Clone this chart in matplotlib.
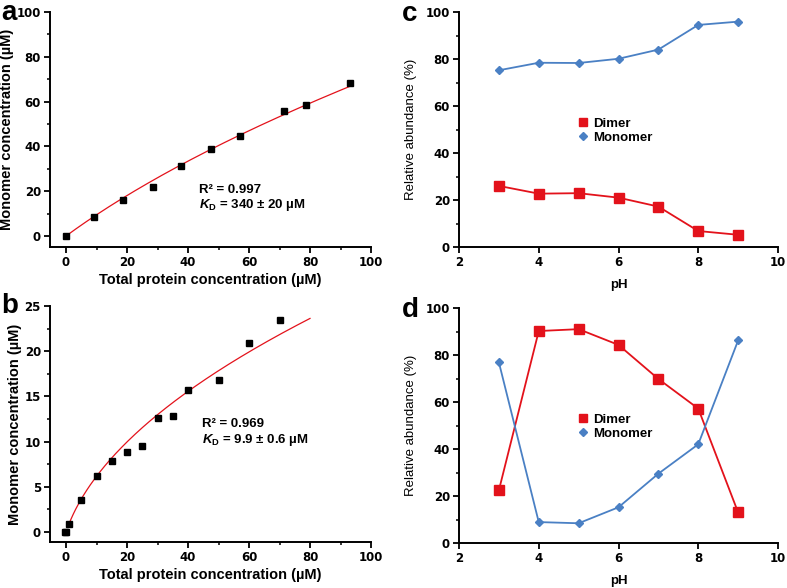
import numpy as np
import matplotlib
matplotlib.use('Agg')
import matplotlib.pyplot as plt
from matplotlib.ticker import MultipleLocator
from matplotlib.lines import Line2D

plt.rcParams['font.family'] = ['Liberation Sans', 'DejaVu Sans']
plt.rcParams['font.weight'] = 'bold'
plt.rcParams['mathtext.fontset'] = 'custom'
plt.rcParams['mathtext.rm'] = 'Liberation Sans:bold'
plt.rcParams['mathtext.it'] = 'Liberation Sans:italic:bold'
plt.rcParams['mathtext.bf'] = 'Liberation Sans:bold'

# panel a
a_total = [0, 9.3, 18.8, 28.4, 37.8, 47.5, 57.0, 71.6, 78.8, 93.0]
a_mono = [0, 8.6, 16.0, 21.9, 31.4, 38.8, 44.8, 55.9, 58.4, 68.1]
a_kd = 340.0
# panel b
b_total = [0, 1, 5, 10, 15, 20, 25, 30, 35, 40, 50, 60, 70]
b_mono = [0, 0.9, 3.6, 6.2, 7.9, 8.8, 9.55, 12.6, 12.85, 15.7, 16.8, 20.9, 23.4]
b_kd = 9.9
# panels c, d
ph = [3, 4, 5, 6, 7, 8, 9]
c_dimer = [26.0, 22.7, 22.9, 21.0, 17.2, 6.8, 5.2]
c_mono = [75.2, 78.4, 78.3, 80.1, 84.0, 94.5, 95.9]
d_dimer = [22.4, 90.2, 91.0, 84.3, 69.8, 57.2, 13.0]
d_mono = [76.9, 8.9, 8.4, 15.2, 29.5, 42.0, 86.2]

RED = '#e3121b'
BLUE = '#4a80c4'
W, H = 787, 588

fig = plt.figure(figsize=(W/100, H/100), dpi=100)

def box(l, r, t, b):
  return [l/W, 1-b/H, (r-l)/W, (b-t)/H]

def style(ax):
  for s in ['top', 'right']:
    ax.spines[s].set_visible(False)
  for s in ['left', 'bottom']:
    ax.spines[s].set_linewidth(1.4)
  ax.tick_params(which='major', direction='out', length=4, width=1.3, pad=2.5)
  ax.tick_params(which='minor', direction='out', length=2.5, width=1.1)
  for lab in ax.get_xticklabels() + ax.get_yticklabels():
    lab.set_fontweight('bold')
    lab.set_family('DejaVu Sans')
    lab.set_fontsize(8.5)

# a
axa = fig.add_axes(box(50, 371, 12, 247))
xf = np.linspace(0, 93, 200)
axa.plot(xf, a_kd/4*(np.sqrt(1+8*xf/a_kd)-1), color=RED, lw=0.9)
axa.plot(a_total, a_mono, 's', color='black', ms=5)
axa.set_xlim(-5.25, 100)
axa.set_ylim(-4.9, 100)
axa.xaxis.set_major_locator(MultipleLocator(20))
axa.xaxis.set_minor_locator(MultipleLocator(10))
axa.yaxis.set_major_locator(MultipleLocator(20))
axa.yaxis.set_minor_locator(MultipleLocator(10))
axa.set_xlabel('Total protein concentration (\u00b5M)', fontsize=10.5, fontweight='bold', labelpad=3)
axa.set_ylabel('Monomer concentration (\u00b5M)', fontsize=10.5, fontweight='bold', labelpad=2)
axa.text(0.464, 0.23, 'R\u00b2 = 0.997', transform=axa.transAxes, fontsize=9.5, fontweight='bold')
axa.text(0.464, 0.165, '$K_\\mathrm{D}$ = 340 \u00b1 20 \u00b5M',
         transform=axa.transAxes, fontsize=9.5, fontweight='bold')
style(axa)

# b
axb = fig.add_axes(box(50, 371, 306, 542))
xf = np.linspace(0.8, 80, 200)
axb.plot(xf, b_kd/2*(np.sqrt(1+4*xf/b_kd)-1), color=RED, lw=0.9)
axb.plot(b_total, b_mono, 's', color='black', ms=5)
axb.plot([-0.4], [0], 's', color='black', ms=5)
axb.set_xlim(-5.25, 100)
axb.set_ylim(-1.1, 25)
axb.xaxis.set_major_locator(MultipleLocator(20))
axb.xaxis.set_minor_locator(MultipleLocator(10))
axb.yaxis.set_major_locator(MultipleLocator(5))
axb.yaxis.set_minor_locator(MultipleLocator(2.5))
axb.set_xlabel('Total protein concentration (\u00b5M)', fontsize=10.5, fontweight='bold', labelpad=3)
axb.set_ylabel('Monomer concentration (\u00b5M)', fontsize=10.5, fontweight='bold', labelpad=2)
axb.text(0.473, 0.487, 'R\u00b2 = 0.969', transform=axb.transAxes, fontsize=9.5, fontweight='bold')
axb.text(0.473, 0.42, '$K_\\mathrm{D}$ = 9.9 \u00b1 0.6 \u00b5M',
         transform=axb.transAxes, fontsize=9.5, fontweight='bold')
style(axb)

def ph_panel(ax, dimer, mono):
  ax.plot(ph, dimer, '-s', color=RED, ms=6.5, lw=1.3)
  ax.plot(ph, mono, '-D', color=BLUE, ms=4.5, lw=1.3)
  ax.set_xlim(2, 10)
  ax.set_ylim(0, 100)
  ax.xaxis.set_major_locator(MultipleLocator(2))
  ax.yaxis.set_major_locator(MultipleLocator(20))
  ax.yaxis.set_minor_locator(MultipleLocator(10))
  ax.set_xlabel('pH', fontsize=9.5, fontweight='bold', labelpad=7)
  ax.set_ylabel('Relative abundance (%)', fontsize=9.5, fontweight='normal', labelpad=6)
  handles = [Line2D([], [], ls='none', marker='s', color=RED, ms=6),
             Line2D([], [], ls='none', marker='D', color=BLUE, ms=4.5)]
  ax.legend(handles, ['Dimer', 'Monomer'], loc='center', bbox_to_anchor=(0.49, 0.495),
            frameon=False, handlelength=0.8, handletextpad=0.4, labelspacing=0.15,
            prop={'weight': 'bold', 'size': 9.5})
  style(ax)

axc = fig.add_axes(box(459, 778, 12, 247))
ph_panel(axc, c_dimer, c_mono)
axd = fig.add_axes(box(459, 778, 308, 543))
ph_panel(axd, d_dimer, d_mono)

fig.text(1/W, 1-20/H, 'a', fontsize=20, fontweight='bold')
fig.text(1/W, 1-313/H, 'b', fontsize=20, fontweight='bold')
fig.text(402/W, 1-21/H, 'c', fontsize=20, fontweight='bold')
fig.text(402/W, 1-317/H, 'd', fontsize=20, fontweight='bold')

fig.savefig('out.png', dpi=100)
